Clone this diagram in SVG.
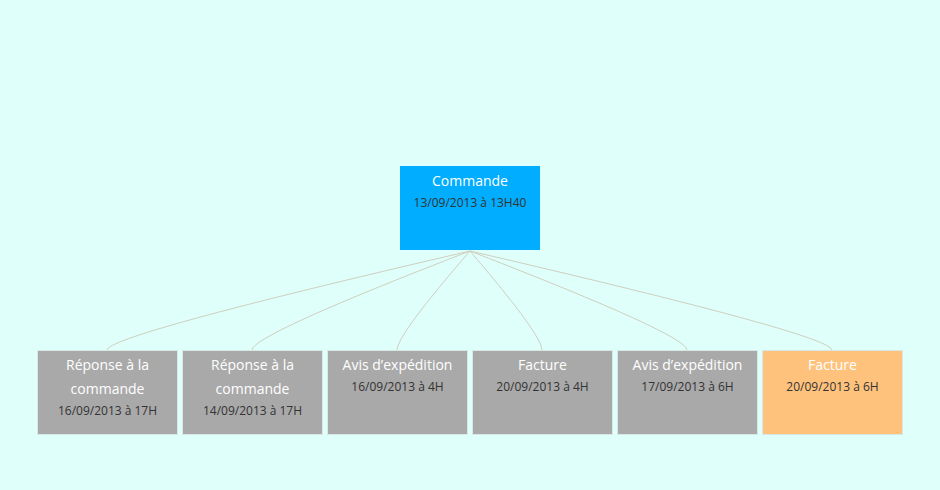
<svg xmlns="http://www.w3.org/2000/svg" width="940" height="490" viewBox="0 0 940 490">
<style>
.bg{fill:#dffffa}
.box{stroke:#d8e8e4;stroke-width:1}
.gray{fill:#a9a9a9}
.blue{fill:#00adfe;stroke:none}
.orange{fill:#ffc27d}
.t{font-family:"Open Sans","Noto Sans","Liberation Sans",sans-serif;font-size:14px;fill:#ffffff;text-anchor:middle}
.d{font-family:"Open Sans","Noto Sans","Liberation Sans",sans-serif;font-size:12px;fill:#333333;text-anchor:middle}
.c{fill:none;stroke:#cfcfbf;stroke-width:1}
</style>
<rect class="bg" x="0" y="0" width="940" height="490"/>
<g id="connectors">
<path class="c" d="M470,251 Q107,335 107,350"/>
<path class="c" d="M470,251 Q252,335 252,350"/>
<path class="c" d="M470,251 Q397,335 397,350"/>
<path class="c" d="M470,251 Q542,335 542,350"/>
<path class="c" d="M470,251 Q687,335 687,350"/>
<path class="c" d="M470,251 Q832,335 832,350"/>
</g>
<g id="commande">
<rect class="blue" x="400" y="166" width="140" height="84"/>
<text class="t" x="470" y="186">Commande</text>
<text class="d" x="470" y="207">13/09/2013 à 13H40</text>
</g>
<g id="reponse1">
<rect class="box gray" x="37.5" y="350.5" width="140" height="84"/>
<text class="t" x="107.5" y="370">Réponse à la</text>
<text class="t" x="107.5" y="394">commande</text>
<text class="d" x="107.5" y="415">16/09/2013 à 17H</text>
</g>
<g id="reponse2">
<rect class="box gray" x="182.5" y="350.5" width="140" height="84"/>
<text class="t" x="252.5" y="370">Réponse à la</text>
<text class="t" x="252.5" y="394">commande</text>
<text class="d" x="252.5" y="415">14/09/2013 à 17H</text>
</g>
<g id="avis1">
<rect class="box gray" x="327.5" y="350.5" width="140" height="84"/>
<text class="t" x="397.5" y="370">Avis d’expédition</text>
<text class="d" x="397.5" y="391">16/09/2013 à 4H</text>
</g>
<g id="facture1">
<rect class="box gray" x="472.5" y="350.5" width="140" height="84"/>
<text class="t" x="542.5" y="370">Facture</text>
<text class="d" x="542.5" y="391">20/09/2013 à 4H</text>
</g>
<g id="avis2">
<rect class="box gray" x="617.5" y="350.5" width="140" height="84"/>
<text class="t" x="687.5" y="370">Avis d’expédition</text>
<text class="d" x="687.5" y="391">17/09/2013 à 6H</text>
</g>
<g id="facture2">
<rect class="box orange" x="762.5" y="350.5" width="140" height="84"/>
<text class="t" x="832.5" y="370">Facture</text>
<text class="d" x="832.5" y="391">20/09/2013 à 6H</text>
</g>
</svg>
